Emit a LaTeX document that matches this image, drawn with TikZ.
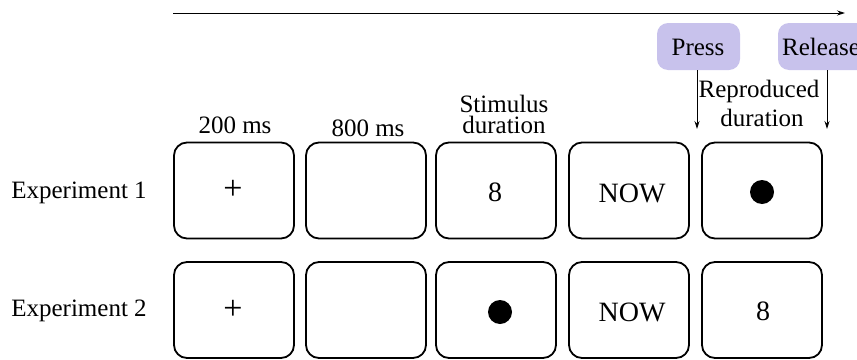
\documentclass[tikz,border=0pt]{standalone}
\usepackage{fontspec}
\setmainfont{Liberation Serif}
\usetikzlibrary{arrows.meta}
\definecolor{lav}{HTML}{C8C2EC}
\begin{document}
\begin{tikzpicture}[x=1pt,y=-1pt,
  every node/.style={font=\fontsize{25}{28}\selectfont, inner sep=0pt},
  scr/.style={draw, line width=1.8pt, rounded corners=13pt, minimum width=120pt, minimum height=96pt},
  lbl/.style={anchor=base},
  big/.style={anchor=base, font=\fontsize{28}{30}\selectfont},
  plus/.style={font=\fontsize{34}{36}\selectfont},
  btn/.style={fill=lav, rounded corners=11pt, minimum height=47pt},
  arr/.style={line width=0.9pt, -{Stealth[length=8pt,width=5pt]}},
  dotm/.style={fill=black, circle, minimum size=24pt}
]
\useasboundingbox (0,0) rectangle (857,359);
\clip (0,0) rectangle (857,359);
% time arrow
\coordinate (t0) at (173,13);
\coordinate (t1) at (845,13);
\draw[arr] (t0) -- (t1);
% buttons
\node[btn, minimum width=83pt] (press) at (698.5,46.5) {};
\node[lbl] (presst) at (698,55) {Press};
\node[btn, minimum width=110pt] (release) at (833,46.5) {};
\node[anchor=base west] (releaset) at (782,55) {Release};
\coordinate (parr) at (697,129);
\coordinate (rarr) at (827,129);
\draw[arr] (press.south -| parr) -- (parr);
\draw[arr] (release.south -| rarr) -- (rarr);
% headings
\node[lbl] (h1) at (235,133) {200 ms};
\node[lbl] (h2) at (368,136) {800 ms};
\node[lbl] (h3a) at (504,112) {Stimulus};
\node[lbl] (h3b) at (504,133) {duration};
\node[lbl] (h5a) at (759,97) {Reproduced};
\node[lbl] (h5b) at (762,126) {duration};
% row labels
\node[lbl] (e1) at (79,198) {Experiment 1};
\node[lbl] (e2) at (79,316) {Experiment 2};
% row 1
\node[scr] (b11) at (234,190.5) {};
\node[scr] (b12) at (366,190.5) {};
\node[scr] (b13) at (496,190.5) {};
\node[scr] (b14) at (629,190.5) {};
\node[scr] (b15) at (762,190.5) {};
\node[plus] (c11) at (233,190) {+};
\node[big] (c13) at (495,201) {8};
\node[big] (c14) at (632,202) {NOW};
\node[dotm] (c15) at (762,192) {};
% row 2
\node[scr] (b21) at (234,310) {};
\node[scr] (b22) at (366,310) {};
\node[scr] (b23) at (496,310) {};
\node[scr] (b24) at (629,310) {};
\node[scr] (b25) at (762,310) {};
\node[plus] (c21) at (233,310) {+};
\node[dotm] (c23) at (500,312) {};
\node[big] (c24) at (632,321) {NOW};
\node[big] (c25) at (763,320) {8};
\end{tikzpicture}
\end{document}
